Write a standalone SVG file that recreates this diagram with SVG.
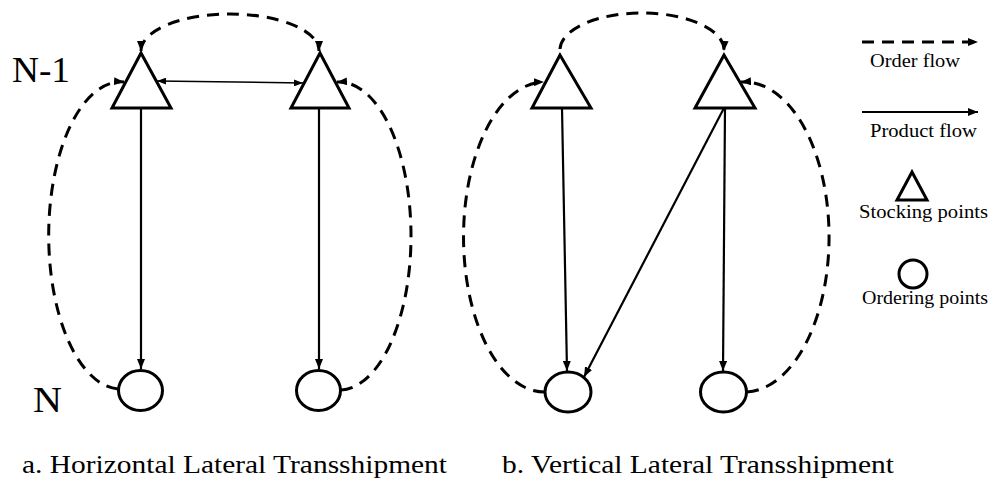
<svg xmlns="http://www.w3.org/2000/svg" width="995" height="479" viewBox="0 0 995 479">
<style>
.node{fill:#fff;stroke:#000;stroke-width:3}
.solid{fill:none;stroke:#000;stroke-width:2.2}
.thin{fill:none;stroke:#000;stroke-width:1.5}
.dash{fill:none;stroke:#000;stroke-width:3;stroke-dasharray:12 8}
.lbl{font-family:"Liberation Serif","Times New Roman",serif;fill:#000}
</style>
<defs>
<marker id="ah" markerUnits="userSpaceOnUse" markerWidth="10" markerHeight="8" refX="10" refY="4" orient="auto-start-reverse">
<path d="M0,0 L10,4 L0,8 z" fill="#000"/>
</marker>
<marker id="ahs" markerUnits="userSpaceOnUse" markerWidth="9" markerHeight="7" refX="9" refY="3.5" orient="auto-start-reverse">
<path d="M0,0 L9,3.5 L0,7 z" fill="#000"/>
</marker>
</defs>
<rect width="995" height="479" fill="#fff"/>

<g id="connectors">
<!-- diagram a -->
<path class="dash" d="M141,51 A89,37 0 0 1 319,51" marker-start="url(#ah)" marker-end="url(#ah)"/>
<line class="thin" x1="157" y1="81" x2="303" y2="83" marker-start="url(#ahs)" marker-end="url(#ahs)"/>
<path class="dash" d="M118,389 A72,153 0 0 1 124,82" marker-end="url(#ah)"/>
<path class="dash" d="M341,390 A72,154 0 0 0 337,82" marker-end="url(#ah)"/>
<line class="solid" x1="141" y1="108" x2="141" y2="369" marker-end="url(#ah)"/>
<line class="solid" x1="319" y1="108" x2="319" y2="369" marker-end="url(#ah)"/>
<!-- diagram b -->
<path class="dash" d="M560,49 A82,37 0 0 1 724,51" marker-end="url(#ah)"/>
<path class="dash" d="M545,392 A81,155 0 0 1 544,82" marker-end="url(#ah)"/>
<path class="dash" d="M747,392 A85,155 0 0 0 741,82" marker-end="url(#ah)"/>
<line class="solid" x1="562" y1="108" x2="567" y2="371" marker-end="url(#ah)"/>
<line class="solid" x1="725" y1="108" x2="723" y2="371" marker-end="url(#ah)"/>
<line class="solid" x1="724" y1="108" x2="584" y2="377" marker-end="url(#ah)"/>
<!-- legend -->
<line class="dash" x1="862" y1="42" x2="978" y2="42" marker-end="url(#ah)"/>
<line class="solid" x1="862" y1="112" x2="978" y2="112" marker-end="url(#ah)"/>
</g>

<g id="a-stock-left"><polygon class="node" points="141,53 112,108 171,108"/></g>
<g id="a-stock-right"><polygon class="node" points="320,53 291,108 349,108"/></g>
<g id="a-order-left"><ellipse class="node" cx="140.5" cy="390.5" rx="22" ry="20"/></g>
<g id="a-order-right"><ellipse class="node" cx="318.5" cy="390.5" rx="22" ry="20"/></g>

<g id="b-stock-left"><polygon class="node" points="560,55 532,108 591,108"/></g>
<g id="b-stock-right"><polygon class="node" points="724,55 695,108 755,108"/></g>
<g id="b-order-left"><ellipse class="node" cx="568" cy="392" rx="23" ry="20"/></g>
<g id="b-order-right"><ellipse class="node" cx="723.5" cy="392" rx="23" ry="20"/></g>

<g id="legend-stock"><polygon class="node" points="912,172 897,200 927,200"/></g>
<g id="legend-order"><ellipse class="node" cx="913" cy="274" rx="14" ry="14"/></g>

<g id="labels">
<text class="lbl" x="12" y="82" font-size="36" textLength="58" lengthAdjust="spacingAndGlyphs">N-1</text>
<text class="lbl" x="33" y="412" font-size="36" textLength="29" lengthAdjust="spacingAndGlyphs">N</text>
<text class="lbl" x="870" y="67" font-size="18" textLength="90" lengthAdjust="spacingAndGlyphs">Order flow</text>
<text class="lbl" x="870" y="137" font-size="18" textLength="107" lengthAdjust="spacingAndGlyphs">Product flow</text>
<text class="lbl" x="859" y="218" font-size="18" textLength="129" lengthAdjust="spacingAndGlyphs">Stocking points</text>
<text class="lbl" x="862" y="304" font-size="18" textLength="126" lengthAdjust="spacingAndGlyphs">Ordering points</text>
<text class="lbl" x="22" y="473" font-size="25" textLength="425" lengthAdjust="spacingAndGlyphs">a. Horizontal Lateral Transshipment</text>
<text class="lbl" x="502" y="473" font-size="25" textLength="392" lengthAdjust="spacingAndGlyphs">b. Vertical Lateral Transshipment</text>
</g>
</svg>
